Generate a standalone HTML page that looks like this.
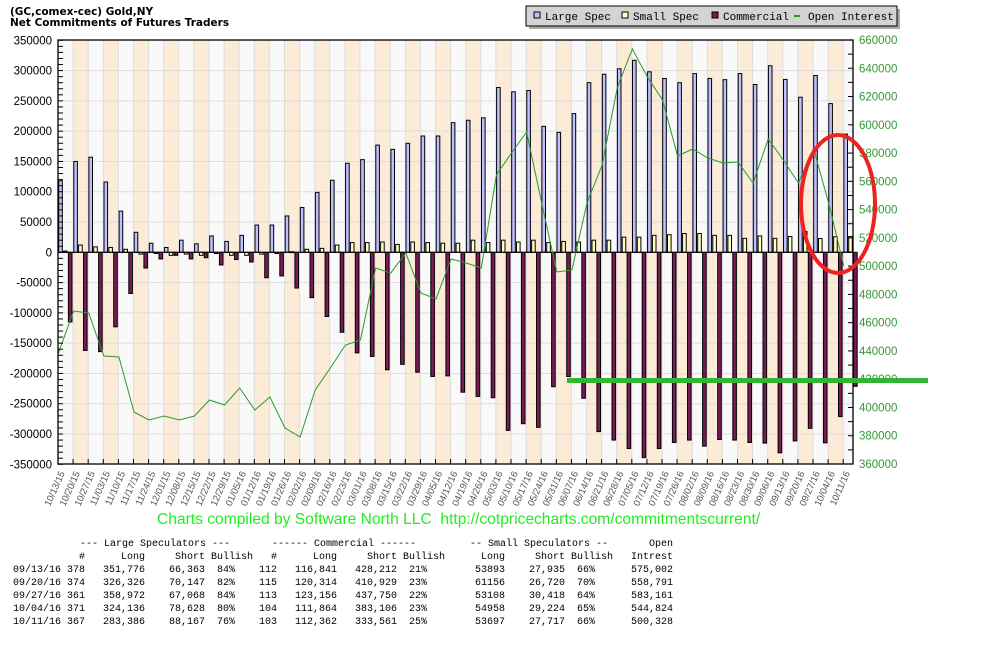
<!DOCTYPE html>
<html><head><meta charset="utf-8">
<style>
html,body{margin:0;padding:0;background:#fff;width:988px;height:654px;overflow:hidden}
svg{position:absolute;left:0;top:0}
</style></head>
<body>
<svg id="s" width="988" height="654" xmlns="http://www.w3.org/2000/svg"></svg>
<script>
var NS="http://www.w3.org/2000/svg",s=document.getElementById('s');
function el(t,a,txt){var e=document.createElementNS(NS,t);for(var k in a)e.setAttribute(k,a[k]);if(txt!==undefined)e.textContent=txt;s.appendChild(e);return e;}
var X0=58,X1=853,YT=40,YB=464,W=15.1,Y0=252.3;
function yl(v){return Y0-v*(212/350000);}
function yr(v){return YB-(v-360000)*(424/300000);}
var dates=["10/13/15","10/20/15","10/27/15","11/03/15","11/10/15","11/17/15","11/24/15","12/01/15","12/08/15","12/15/15","12/22/15","12/29/15","01/05/16","01/12/16","01/19/16","01/26/16","02/02/16","02/09/16","02/16/16","02/23/16","03/01/16","03/08/16","03/15/16","03/22/16","03/29/16","04/05/16","04/12/16","04/19/16","04/26/16","05/03/16","05/10/16","05/17/16","05/24/16","05/31/16","06/07/16","06/14/16","06/21/16","06/28/16","07/05/16","07/12/16","07/19/16","07/26/16","08/02/16","08/09/16","08/16/16","08/23/16","08/30/16","09/06/16","09/13/16","09/20/16","09/27/16","10/04/16","10/11/16"];
var L=[118,150,157,116,68,33,15,8,20,14,27,18,28,45,45,60,74,99,119,147,153,177,170,180,192,192,214,218,222,272,265,267,208,198,229,280,294,303,317,298,287,280,295,287,285,295,277,308,285.4,256,291.9,245.5,195.2];
var S=[2,12,9,8,5,-3,-2,-5,-3,-5,-2,-5,-5,-3,-2,1,5,6.5,12,16,16,17,13,17,16,15,15,20,16,20,17,20,16,18,17,20,20,25,25,28,29,31,31,28,28,23,27,23,26,34.4,22.7,25.7,26];
var C=[-115,-162,-164,-123,-68,-26,-11,-5,-11,-9,-21,-12,-16,-42,-39,-59,-75,-106,-132,-166,-172,-194,-185,-198,-205,-204,-231,-238,-240,-294,-283,-289,-222,-205,-241,-296,-310,-324,-339,-324,-314,-310,-320,-309,-310,-314,-315,-331,-311.4,-290.6,-314.6,-271.2,-221.2];
var OIy=[353,311,313,356,357,412,420,416,420,416,400,405,388,410,397,428,437,390,368,345,340,268,273,253,293,299,259,263,268,175,153,132,203,272,270,203,165,88,49,77,100,156,149,158,163,162,183,139,160,183,148.6,202.8,265.7];
for(var i=0;i<53;i++){var x=X0+W*i;var w=Math.min(W,X1-x);el('rect',{x:x,y:YT,width:w,height:YB-YT,fill:(i%2?'#fbebd7':'#f9f9f9')});}
for(var i=1;i<53;i++){var x=X0+W*i;el('line',{x1:x,y1:YT,x2:x,y2:YB,stroke:'#dddddd','stroke-width':1});}
for(var v=-300000;v<=350000;v+=50000){el('line',{x1:X0,y1:yl(v),x2:X1,y2:yl(v),stroke:'#dddddd','stroke-width':1});}
function bar(x,v,f){var y=yl(v*1000);var t=Math.min(y,Y0),h=Math.abs(y-Y0);if(h<1)h=1;el('rect',{x:x,y:t,width:3.6,height:h,fill:f,stroke:'#000','stroke-width':1});}
for(var i=0;i<53;i++){var c=X0+W*i;bar(c+0.7,L[i],'#c0c0ff');bar(c+5.5,S[i],'#ffffc0');bar(c+10.4,C[i],'#7b1a55');}
el('line',{x1:X0,y1:Y0,x2:X1,y2:Y0,stroke:'#000','stroke-width':1.2});
var pts=[];for(var i=0;i<53;i++)pts.push((X0+W*i+0.5)+','+OIy[i]);
el('polyline',{points:pts.join(' '),fill:'none',stroke:'#2a9a2a','stroke-width':1});
el('rect',{x:X0,y:YT,width:X1-X0,height:YB-YT,fill:'none',stroke:'#000','stroke-width':1.3});
for(var v=-350000;v<=350000;v+=10000){var y=yl(v);el('line',{x1:X0,y1:y,x2:X0+5,y2:y,stroke:'#000'});}
for(var v=360000;v<=660000;v+=10000){var y=yr(v);el('line',{x1:X1-5,y1:y,x2:X1,y2:y,stroke:'#000'});}
for(var i=1;i<53;i++){var x=X0+W*i;el('line',{x1:x,y1:YB-5,x2:x,y2:YB,stroke:'#000'});}
for(var v=-350000;v<=350000;v+=50000){el('text',{x:52,y:yl(v)+4,'text-anchor':'end','font-family':'Liberation Sans, sans-serif','font-size':'11.5',fill:'#000'},String(v));}
for(var v=360000;v<=660000;v+=20000){el('text',{x:859,y:yr(v)+4,'font-family':'Liberation Sans, sans-serif','font-size':'11.5',fill:'#339933'},String(v));}
for(var i=0;i<53;i++){var x=X0+W*i+7,y=473;el('text',{x:x,y:y,'text-anchor':'end',transform:'rotate(-66 '+x+' '+y+')','font-family':'Liberation Sans, sans-serif','font-size':'9.5',fill:'#555'},dates[i]);}
el('text',{x:10,y:15,'font-family':'DejaVu Sans, sans-serif','font-size':'10.5','font-weight':'bold',fill:'#000'},'(GC,comex-cec) Gold,NY');
el('text',{x:10,y:26,'font-family':'DejaVu Sans, sans-serif','font-size':'10.5','font-weight':'bold',fill:'#000'},'Net Commitments of Futures Traders');
el('rect',{x:529,y:9,width:371,height:20,fill:'#aaaaaa'});
el('rect',{x:526,y:6,width:371,height:20,fill:'#d3d3d3',stroke:'#000','stroke-width':1});
var lg=[[534,'#c0c0ff','Large Spec'],[622,'#ffffc0','Small Spec'],[712,'#7b1a55','Commercial']];
lg.forEach(function(a){el('rect',{x:a[0],y:12,width:6,height:6,fill:a[1],stroke:'#000'});el('text',{x:a[0]+11,y:20,'font-family':'Liberation Mono, monospace','font-size':'11',fill:'#000'},a[2]);});
el('line',{x1:794,y1:16,x2:800,y2:16,stroke:'#2a9a2a','stroke-width':2});
el('text',{x:808,y:20,'font-family':'Liberation Mono, monospace','font-size':'11',fill:'#000'},'Open Interest');
el('line',{x1:567,y1:380.5,x2:928,y2:380.5,stroke:'#33b533','stroke-width':5});
el('ellipse',{cx:838,cy:204,rx:37,ry:69,fill:'none',stroke:'#ee2222','stroke-width':4});
el('text',{x:157,y:524,'font-family':'Liberation Sans, sans-serif','font-size':'15.6',fill:'#22ee22','xml:space':'preserve'},'Charts compiled by Software North LLC\u00a0\u00a0http://cotpricecharts.com/commitmentscurrent/');
function t(x,y,txt,anc){el('text',{x:x,y:y,'text-anchor':anc||'end','font-family':'Liberation Mono, monospace','font-size':'10',fill:'#000','xml:space':'preserve'},txt);}
t(80,546,'--- Large Speculators ---','start');t(272,546,'------ Commercial ------','start');t(470,546,'-- Small Speculators --','start');t(673,546,'Open');
var hy=559;t(85,hy,'#');t(145,hy,'Long');t(205,hy,'Short');t(253,hy,'Bullish');t(277,hy,'#');t(337,hy,'Long');t(397,hy,'Short');t(445,hy,'Bullish');t(505,hy,'Long');t(565,hy,'Short');t(613,hy,'Bullish');t(673,hy,'Intrest');
var rows=[["09/13/16","378","351,776","66,363","84%","112","116,841","428,212","21%","53893","27,935","66%","575,002"],
["09/20/16","374","326,326","70,147","82%","115","120,314","410,929","23%","61156","26,720","70%","558,791"],
["09/27/16","361","358,972","67,068","84%","113","123,156","437,750","22%","53108","30,418","64%","583,161"],
["10/04/16","371","324,136","78,628","80%","104","111,864","383,106","23%","54958","29,224","65%","544,824"],
["10/11/16","367","283,386","88,167","76%","103","112,362","333,561","25%","53697","27,717","66%","500,328"]];
var rx=[62,85,145,205,235,277,337,397,427,505,565,595,673];
rows.forEach(function(r,j){var y=572+13*j;t(13,y,r[0],'start');for(var k=1;k<13;k++)t(rx[k],y,r[k]);});
</script>
</body></html>
